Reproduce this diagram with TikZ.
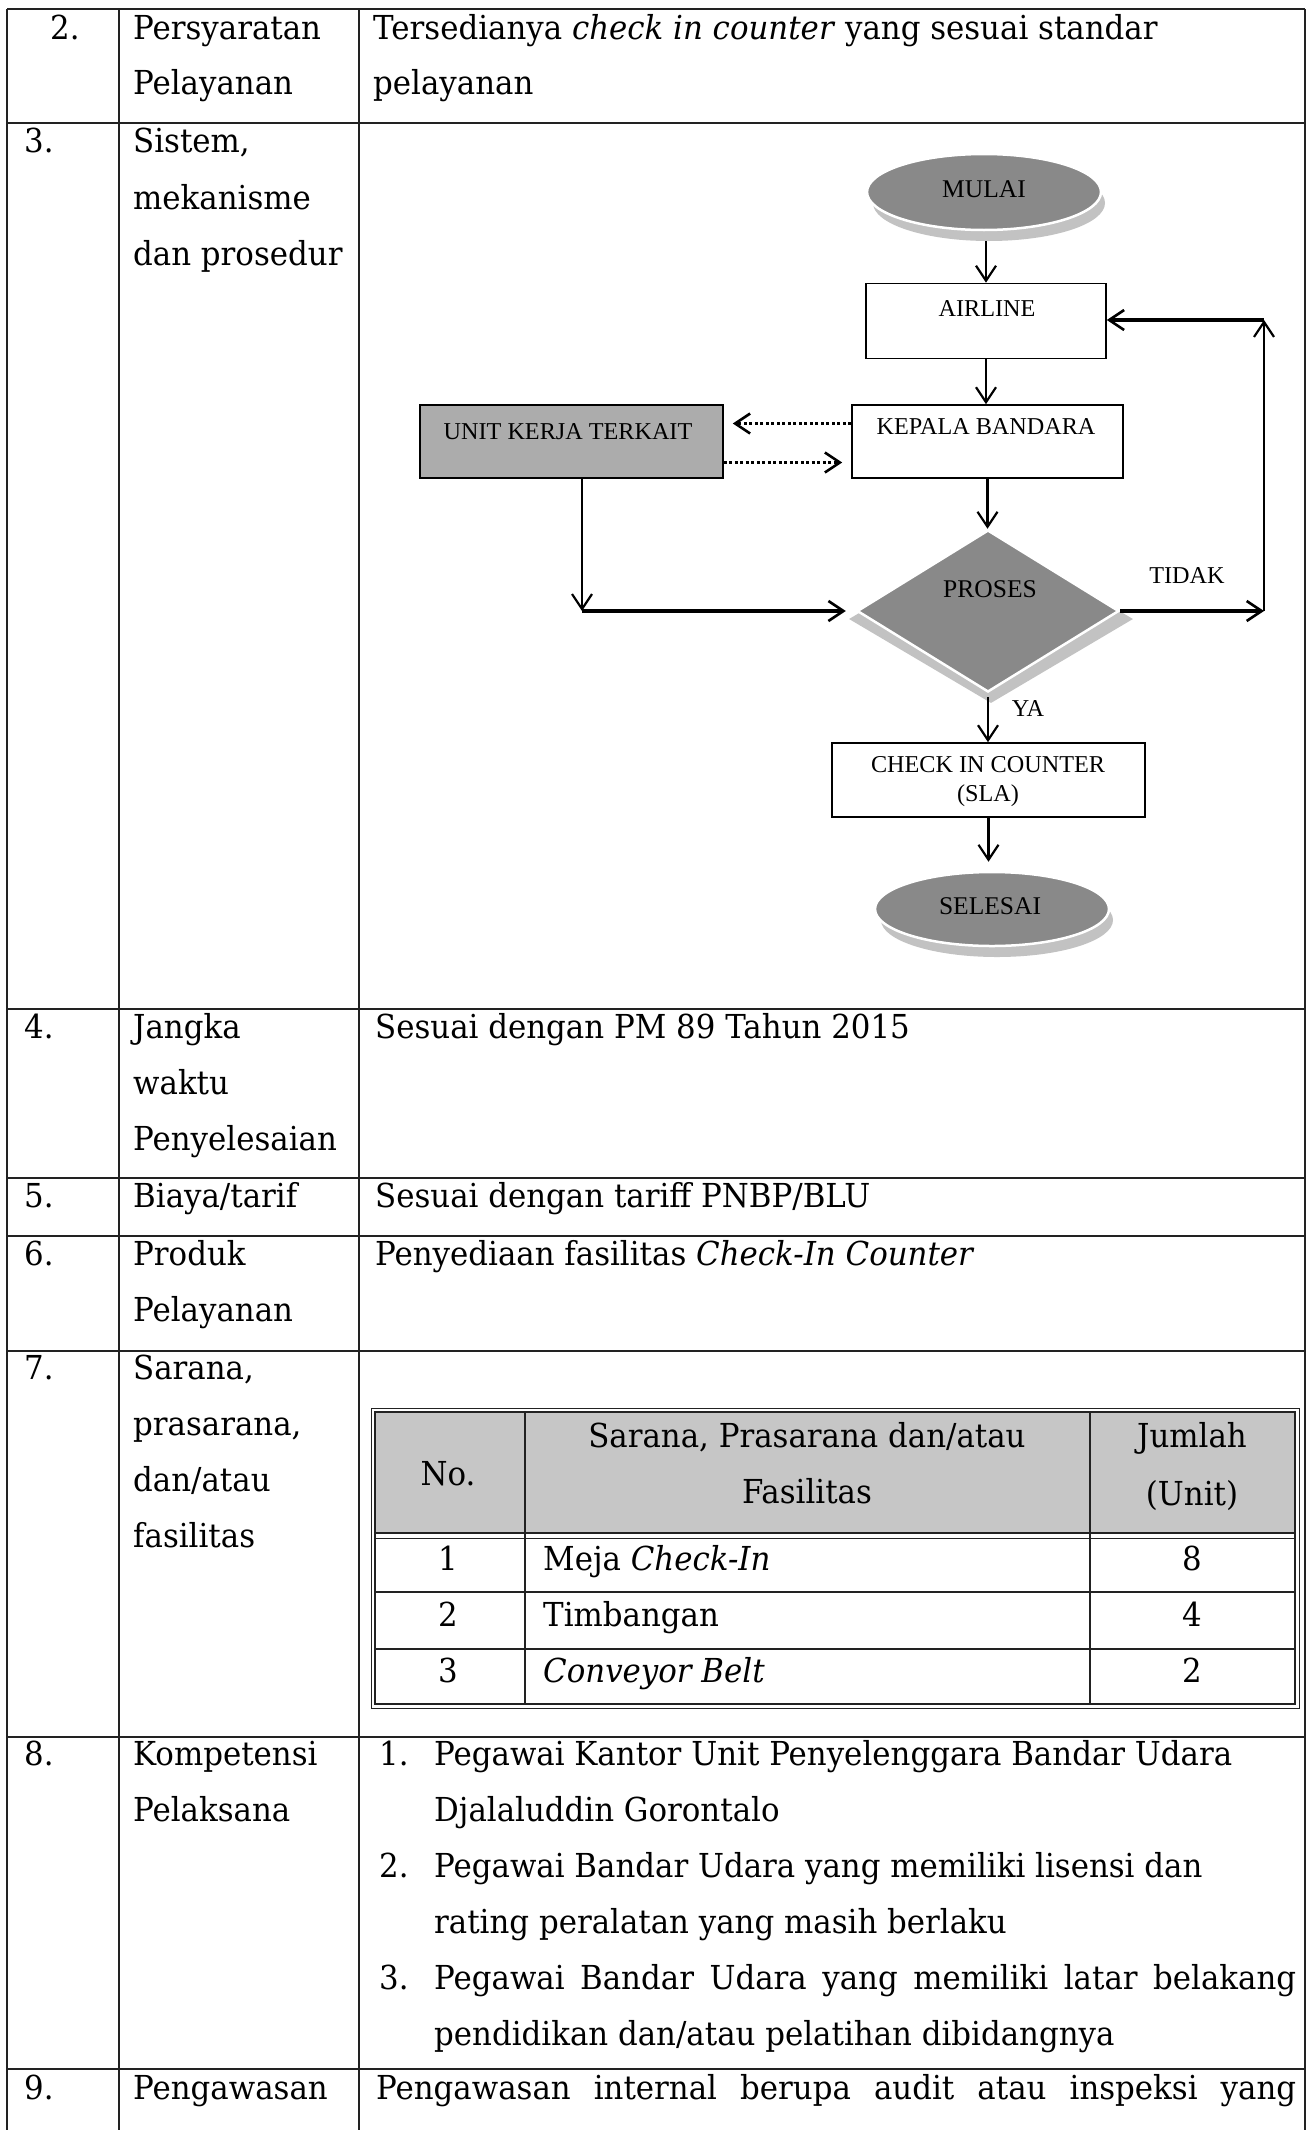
\documentclass[tikz,border=0pt]{standalone}
\usepackage{fontspec}
\setmainfont{DejaVu Serif}[FakeStretch=0.935]
\newfontfamily\fcfam{Liberation Serif}
\usetikzlibrary{arrows.meta,shapes.geometric}
\definecolor{shapegray}{HTML}{898989}
\definecolor{boxgray}{HTML}{ACACAC}
\definecolor{headgray}{HTML}{C6C6C6}
\definecolor{rimgray}{HTML}{C2C2C2}
\definecolor{linegray}{HTML}{222222}
\newcommand\bodyfont{\fontsize{33}{40}\selectfont}
\newcommand\fcfont{\fcfam\fontsize{24.2}{29}\selectfont}
\newcommand\fcbig{\fcfam\fontsize{25.5}{29}\selectfont}
\newcounter{celln}
\newcommand\celltext[3]{\stepcounter{celln}\node[body] (c\arabic{celln}) at (#1,#2) {#3};}
\newcommand\cellmid[3]{\stepcounter{celln}\node[bodyc] (c\arabic{celln}) at (#1,#2) {#3};}
\begin{document}
\begin{tikzpicture}[x=1pt,y=-1pt,
  body/.style={inner sep=0pt, anchor=base west, font=\bodyfont},
  bodyc/.style={inner sep=0pt, anchor=base, font=\bodyfont},
  tline/.style={line width=2.4pt, draw=linegray},
  vline/.style={line width=1.6pt, draw=linegray},
  fcbox/.style={draw=black, line width=1.6pt, rectangle, inner sep=0pt},
  fctext/.style={font=\fcfont, inner sep=0pt, align=center},
  fcbigtext/.style={font=\fcbig, inner sep=0pt, align=center},
  arr/.style={line width=2.2pt, -{Straight Barb[length=15pt,width=20pt,line width=2.2pt]}},
  tarr/.style={line width=4pt, -{Straight Barb[length=15pt,width=20pt,line width=2.6pt]}},
  darr/.style={line width=3pt, dash pattern=on 3pt off 2.5pt, -{Straight Barb[length=15pt,width=20pt,line width=2.6pt]}},
]
\useasboundingbox (0,0) rectangle (1312,2130);
\fill[white] (0,0) rectangle (1312,2130);

% ---------- outer table ----------
\foreach \y in {9,123,1009,1178,1236,1351,1737,2069} \draw[tline] (7,\y) -- (1305,\y);
\foreach \x in {7,119,359,1305} \draw[vline] (\x,9) -- (\x,2130);

% row 2
\celltext{50}{40}{2.}
\celltext{133}{40}{Persyaratan}
\celltext{133}{95}{Pelayanan}
\celltext{373}{40}{Tersedianya \textit{check in counter} yang sesuai standar}
\celltext{373}{95}{pelayanan}
% row 3
\celltext{24}{152}{3.}
\celltext{133}{152}{Sistem,}
\celltext{133}{209}{mekanisme}
\celltext{133}{265}{dan prosedur}
% row 4
\celltext{24}{1038}{4.}
\celltext{133}{1038}{Jangka}
\celltext{133}{1094}{waktu}
\celltext{133}{1150}{Penyelesaian}
\celltext{375}{1038}{Sesuai dengan PM 89 Tahun 2015}
% row 5
\celltext{24}{1207}{5.}
\celltext{133}{1207}{Biaya/tarif}
\celltext{375}{1207}{Sesuai dengan tariff PNBP/BLU}
% row 6
\celltext{24}{1265}{6.}
\celltext{133}{1265}{Produk}
\celltext{133}{1321}{Pelayanan}
\celltext{375}{1265}{Penyediaan fasilitas \textit{Check-In Counter}}
% row 7
\celltext{24}{1379}{7.}
\celltext{133}{1379}{Sarana,}
\celltext{133}{1435}{prasarana,}
\celltext{133}{1491}{dan/atau}
\celltext{133}{1547}{fasilitas}
% row 8
\celltext{24}{1765}{8.}
\celltext{133}{1765}{Kompetensi}
\celltext{133}{1821}{Pelaksana}
\celltext{379}{1765}{1.}
\celltext{434}{1765}{Pegawai Kantor Unit Penyelenggara Bandar Udara}
\celltext{434}{1821}{Djalaluddin Gorontalo}
\celltext{379}{1877}{2.}
\celltext{434}{1877}{Pegawai Bandar Udara yang memiliki lisensi dan}
\celltext{434}{1933}{rating peralatan yang masih berlaku}
\celltext{379}{1989}{3.}
\celltext{434}{1989}{\hbox to 862pt{Pegawai Bandar Udara yang memiliki latar belakang}}
\celltext{434}{2045}{pendidikan dan/atau pelatihan dibidangnya}
% row 9
\celltext{24}{2099}{9.}
\celltext{133}{2099}{Pengawasan}
\celltext{376}{2099}{\hbox to 920pt{Pengawasan internal berupa audit atau inspeksi yang}}

% ---------- inner table (row 7) ----------
\fill[headgray] (375,1412) rectangle (1295,1533);
\draw[line width=1pt, linegray] (371,1408) rectangle (1299,1708);
\draw[line width=2pt, linegray] (375,1412) rectangle (1295,1704);
\draw[line width=2pt, linegray] (375,1533) -- (1295,1533);
\draw[line width=1pt, linegray] (375,1538) -- (1295,1538);
\draw[line width=2pt, linegray] (525,1412) -- (525,1704);
\draw[line width=2pt, linegray] (1090,1412) -- (1090,1704);
\draw[line width=1.6pt, linegray] (375,1592) -- (1295,1592);
\draw[line width=1.6pt, linegray] (375,1649) -- (1295,1649);
\cellmid{448}{1485}{No.}
\cellmid{807}{1447}{Sarana, Prasarana dan/atau}
\cellmid{807}{1503}{Fasilitas}
\cellmid{1192}{1447}{Jumlah}
\cellmid{1192}{1505}{(Unit)}
\cellmid{448}{1570}{1}
\celltext{543}{1570}{Meja \textit{Check-In}}
\cellmid{1192}{1570}{8}
\cellmid{448}{1626}{2}
\celltext{543}{1626}{Timbangan}
\cellmid{1192}{1626}{4}
\cellmid{448}{1682}{3}
\celltext{543}{1682}{\textit{Conveyor Belt}}
\cellmid{1192}{1682}{2}

% ---------- flowchart ----------
\node[ellipse, fill=rimgray, minimum width=232pt, minimum height=76pt, inner sep=0pt] (mulaishadow) at (989,203) {};
\node[ellipse, fill=shapegray, draw=white, line width=2.5pt, minimum width=234pt, minimum height=76pt, inner sep=0pt] (mulai) at (984,192) {};
\node[fcbigtext] (mulaitxt) at (984,189) {MULAI};

\node[fcbox, minimum width=240pt, minimum height=75pt] (airline) at (986,321) {};
\node[fctext] (airlinetxt) at (987,309) {AIRLINE};

\node[fcbox, minimum width=271pt, minimum height=73pt] (kepala) at (987.5,441.5) {};
\node[fctext] (kepalatxt) at (986,427) {KEPALA BANDARA};

\node[fcbox, fill=boxgray, minimum width=303pt, minimum height=73pt] (unit) at (571.5,441.5) {};
\node[fctext] (unittxt) at (568,432) {UNIT KERJA TERKAIT};

\node[diamond, fill=rimgray, minimum width=284pt, minimum height=168pt, inner sep=0pt] (proshadow) at (991,619) {};
\node[diamond, fill=shapegray, draw=white, line width=2.5pt, minimum width=262pt, minimum height=162pt, inner sep=0pt] (proses) at (988,611) {};
\node[fcbigtext] (prosestxt) at (990,589) {PROSES};

\node[fcbox, minimum width=313pt, minimum height=74pt] (check) at (988.5,780) {};
\node[fctext] (checktxt) at (988,782) {CHECK IN COUNTER\\(SLA)};

\node[ellipse, fill=rimgray, minimum width=232pt, minimum height=74pt, inner sep=0pt] (selesaishadow) at (997,920) {};
\node[ellipse, fill=shapegray, draw=white, line width=2.5pt, minimum width=234pt, minimum height=74pt, inner sep=0pt] (selesai) at (992,909) {};
\node[fcbigtext] (selesaitxt) at (990,906) {SELESAI};

\node[fctext] (tidak) at (1187,576) {TIDAK};
\node[fctext] (ya) at (1028,709) {YA};

\coordinate (corner) at (582,611);
\coordinate (tr) at (1264,611);
\coordinate (tt) at (1264,320);

\draw[arr] (airline.north |- mulaishadow.south) -- (airline.north);
\draw[arr] (airline.south) -- (airline.south |- kepala.north);
\draw[darr] ([yshift=18pt]kepala.west) -- ([yshift=18pt,xshift=9pt]unit.east);
\draw[darr] ([yshift=-21pt]unit.east) -- ([yshift=-21pt,xshift=-9pt]kepala.west);
\draw[arr] (kepala.south) -- (kepala.south |- proses.north);
\draw[arr] (corner |- unit.south) -- (corner);
\draw[tarr] (corner) -- ([xshift=-10pt]proses.west);
\draw[tarr] (proses.east) -- (tr);
\draw[arr] (tr) -- (tt);
\draw[tarr] (tt) -- (airline.east |- tt);
\draw[arr] ([yshift=-4pt]proses.south) -- (proses.south |- check.north);
\draw[arr, shorten >=9pt] (check.south) -- (check.south |- selesai.north);
\end{tikzpicture}
\end{document}
